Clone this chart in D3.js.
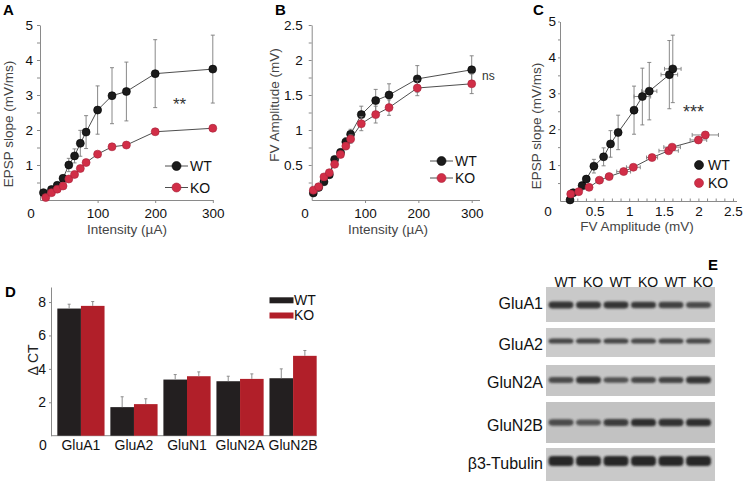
<!DOCTYPE html>
<html><head><meta charset="utf-8">
<script src="https://cdn.jsdelivr.net/npm/d3@7"></script>
<style>html,body{margin:0;padding:0;background:#fff}</style>
</head><body>
<script>
// ---------------- DATA ----------------
// Panel A: EPSP slope vs intensity
const aWtX = [6, 20, 30, 40, 50, 60, 70, 80, 100, 125, 150, 200, 300];
const aWtY = [0.21, 0.3, 0.42, 0.62, 1.0, 1.26, 1.62, 1.94, 2.57, 2.98, 3.1, 3.61, 3.74];
const aWtE = [0.03, 0.04, 0.05, 0.08, 0.19, 0.2, 0.37, 0.47, 0.69, 0.8, 0.84, 0.97, 0.97];
const aKoX = [10, 20, 30, 40, 50, 60, 70, 80, 100, 125, 150, 200, 300];
const aKoY = [0.07, 0.21, 0.31, 0.4, 0.6, 0.73, 0.9, 1.07, 1.31, 1.52, 1.57, 1.95, 2.05];
const aKoE = [0.02, 0.02, 0.03, 0.03, 0.04, 0.04, 0.05, 0.05, 0.05, 0.06, 0.07, 0.08, 0.09];
const aYTicks = [1, 2, 3, 4, 5];
const aXTicks = [100, 200, 300];

// Panel B: FV amplitude vs intensity
const bWtX = [3, 13, 23, 33, 43, 54, 64, 73, 93, 120, 145, 198, 300];
const bWtY = [0.1, 0.18, 0.26, 0.36, 0.58, 0.68, 0.83, 0.94, 1.22, 1.42, 1.5, 1.73, 1.86];
const bWtE = [0.02, 0.03, 0.03, 0.04, 0.04, 0.05, 0.06, 0.07, 0.12, 0.16, 0.16, 0.19, 0.2];
const bKoX = [3, 13, 23, 33, 43, 54, 64, 73, 93, 120, 145, 198, 300];
const bKoY = [0.14, 0.19, 0.33, 0.39, 0.51, 0.65, 0.77, 0.87, 1.09, 1.22, 1.32, 1.6, 1.66];
const bKoE = [0.02, 0.02, 0.03, 0.03, 0.04, 0.04, 0.05, 0.06, 0.1, 0.12, 0.11, 0.11, 0.14];
const bYTicks = [0.5, 1, 1.5, 2, 2.5];
const bXTicks = [100, 200, 300];

// Panel C: EPSP slope vs FV amplitude
const cWtX = [0.145, 0.19, 0.32, 0.38, 0.49, 0.63, 0.73, 0.84, 1.07, 1.19, 1.29, 1.58, 1.63];
const cWtY = [0.03, 0.23, 0.43, 0.61, 0.97, 1.23, 1.59, 1.91, 2.53, 2.91, 3.06, 3.52, 3.68];
const cWtXE = [0.01, 0.01, 0.02, 0.02, 0.05, 0.04, 0.04, 0.04, 0.05, 0.12, 0.11, 0.12, 0.12];
const cWtYE = [0.02, 0.03, 0.05, 0.08, 0.19, 0.25, 0.37, 0.48, 0.67, 0.79, 0.8, 0.95, 0.94];
const cKoX = [0.155, 0.27, 0.42, 0.57, 0.71, 0.92, 1.06, 1.33, 1.57, 1.62, 2.0, 2.1];
const cKoY = [0.195, 0.26, 0.38, 0.58, 0.68, 0.82, 0.94, 1.21, 1.4, 1.5, 1.7, 1.84];
const cKoXE = [0.01, 0.02, 0.02, 0.05, 0.05, 0.1, 0.1, 0.08, 0.14, 0.12, 0.12, 0.19];
const cKoYE = [0.02, 0.02, 0.03, 0.03, 0.04, 0.04, 0.05, 0.05, 0.06, 0.07, 0.08, 0.09];
const cYTicks = [1, 2, 3, 4, 5];
const cXTicks = [0.5, 1, 1.5, 2, 2.5];

// Panel D: qPCR delta CT
const dGenes = ["GluA1", "GluA2", "GluN1", "GluN2A", "GluN2B"];
const dWt = [7.61, 1.71, 3.36, 3.26, 3.44];
const dWtE = [0.26, 0.62, 0.3, 0.3, 0.56];
const dKo = [7.77, 1.89, 3.56, 3.4, 4.78];
const dKoE = [0.26, 0.32, 0.26, 0.3, 0.32];
const dYTicks = [2, 4, 6, 8];

// Panel E: western blot (relative band density per lane)
const eProteins = ["GluA1", "GluA2", "GluN2A", "GluN2B", "β3-Tubulin"];
const eLanes = ["WT", "KO", "WT", "KO", "WT", "KO"];
const eGluA1 = [1.0, 1.0, 1.0, 0.95, 0.85, 0.72];
const eGluA2 = [0.8, 0.8, 0.8, 0.78, 0.78, 0.78];
const eGluN2A = [0.7, 1.0, 0.62, 0.75, 0.8, 1.0];
const eGluN2B = [0.7, 0.55, 0.9, 1.1, 1.05, 1.1];
const eTub = [1.2, 1.2, 1.2, 1.2, 1.2, 1.2];

// ---------------- DRAWING ----------------
const FONT = "'Liberation Sans', Arial, Helvetica, sans-serif";
const BLACK = "#1b1b1b", RED = "#d12e47", REDSTROKE = "#a8233a";
const svg = d3.select("body").append("svg").attr("width", 743).attr("height", 484)
  .style("font-family", FONT);
svg.append("rect").attr("width", 743).attr("height", 484).attr("fill", "#fff");

function styleAxis(g, size) {
  g.select(".domain").attr("stroke", "#8a8a8a").attr("stroke-width", 1);
  g.selectAll(".tick line").attr("stroke", "#8a8a8a");
  g.selectAll(".tick text").attr("font-size", size || 13.5).attr("fill", "#111").attr("font-family", FONT);
}
function fmt(v) { return String(v); }

function drawSeries(g, x, y, xs, ys, ye, fill, stroke, xe) {
  const pts = xs.map((d, i) => ({x: d, y: ys[i], e: ye[i], xe: xe ? xe[i] : 0}));
  g.append("path").datum(pts).attr("fill", "none").attr("stroke", "#3a3a3a").attr("stroke-width", 0.9)
    .attr("d", d3.line().x(d => x(d.x)).y(d => y(d.y)));
  const eb = g.append("g").attr("stroke", "#7c7c7c").attr("stroke-width", 0.9);
  pts.forEach(d => {
    eb.append("line").attr("x1", x(d.x)).attr("x2", x(d.x)).attr("y1", y(d.y - d.e)).attr("y2", y(d.y + d.e));
    eb.append("line").attr("x1", x(d.x) - 2).attr("x2", x(d.x) + 2).attr("y1", y(d.y + d.e)).attr("y2", y(d.y + d.e));
    eb.append("line").attr("x1", x(d.x) - 2).attr("x2", x(d.x) + 2).attr("y1", y(d.y - d.e)).attr("y2", y(d.y - d.e));
    if (d.xe) {
      eb.append("line").attr("x1", x(d.x - d.xe)).attr("x2", x(d.x + d.xe)).attr("y1", y(d.y)).attr("y2", y(d.y));
      eb.append("line").attr("x1", x(d.x - d.xe)).attr("x2", x(d.x - d.xe)).attr("y1", y(d.y) - 2).attr("y2", y(d.y) + 2);
      eb.append("line").attr("x1", x(d.x + d.xe)).attr("x2", x(d.x + d.xe)).attr("y1", y(d.y) - 2).attr("y2", y(d.y) + 2);
    }
  });
  g.append("g").selectAll("circle").data(pts).join("circle")
    .attr("cx", d => x(d.x)).attr("cy", d => y(d.y)).attr("r", 4)
    .attr("fill", fill).attr("stroke", stroke).attr("stroke-width", 0.6);
}

function panelLabel(t, x, y) {
  svg.append("text").attr("x", x).attr("y", y).text(t).attr("font-size", 15).attr("font-weight", "bold").attr("fill", "#000");
}
function axisTitle(t, x, y, rot) {
  const el = svg.append("text").text(t).attr("font-size", 13.5).attr("fill", "#444").attr("text-anchor", "middle");
  if (rot) el.attr("transform", `translate(${x},${y}) rotate(-90)`);
  else el.attr("x", x).attr("y", y);
}
function legendLine(x0, x1, y, fill, stroke, label, withLine) {
  if (withLine) svg.append("line").attr("x1", x0).attr("x2", x1).attr("y1", y).attr("y2", y).attr("stroke", "#3a3a3a").attr("stroke-width", 0.9);
  svg.append("circle").attr("cx", (x0 + x1) / 2).attr("cy", y).attr("r", 4.5).attr("fill", fill).attr("stroke", stroke).attr("stroke-width", 0.6);
  svg.append("text").attr("x", x1 + 2).attr("y", y + 5).text(label).attr("font-size", 14).attr("fill", "#111");
}

// ---- Panel A ----
{
  const x = d3.scaleLinear().domain([0, 300]).range([40, 212.8]);
  const y = d3.scaleLinear().domain([0, 5]).range([200, 25]);
  const g = svg.append("g");
  const ya = g.append("g").attr("transform", "translate(40,0)")
    .call(d3.axisLeft(y).tickValues(d3.range(0.5, 5.01, 0.5)).tickSizeInner(3).tickSizeOuter(0).tickPadding(4)
      .tickFormat(d => aYTicks.includes(d) ? fmt(d) : ""));
  styleAxis(ya);
  const xa = g.append("g").attr("transform", "translate(0,200)")
    .call(d3.axisBottom(x).tickValues(aXTicks).tickSizeInner(3).tickSizeOuter(0).tickPadding(5).tickFormat(fmt));
  styleAxis(xa);
  g.append("text").attr("x", 31).attr("y", 218).attr("text-anchor", "middle").attr("font-size", 13.5).attr("fill", "#111").text("0");
  drawSeries(g, x, y, aWtX, aWtY, aWtE, BLACK, "#000");
  drawSeries(g, x, y, aKoX, aKoY, aKoE, RED, REDSTROKE);
  panelLabel("A", 3, 15);
  axisTitle("Intensity (µA)", 127, 234, false);
  axisTitle("EPSP slope (mV/ms)", 13, 124, true);
  legendLine(165, 188, 166, BLACK, "#000", "WT", true);
  legendLine(165, 188, 187.5, RED, REDSTROKE, "KO", true);
  svg.append("text").attr("x", 173).attr("y", 110).text("**").attr("font-size", 17).attr("fill", "#333");
}

// ---- Panel B ----
{
  const x = d3.scaleLinear().domain([0, 300]).range([311.7, 471.7]);
  const y = d3.scaleLinear().domain([0, 2.5]).range([200, 25]);
  const g = svg.append("g");
  const ya = g.append("g").attr("transform", "translate(311.7,0)")
    .call(d3.axisLeft(y).tickValues(d3.range(0.25, 2.51, 0.25)).tickSizeInner(3).tickSizeOuter(0).tickPadding(6)
      .tickFormat(d => bYTicks.includes(d) ? fmt(d) : ""));
  styleAxis(ya);
  const xa = g.append("g").attr("transform", "translate(0,200)")
    .call(d3.axisBottom(x).tickValues(bXTicks).tickSizeInner(3).tickSizeOuter(0).tickPadding(5).tickFormat(fmt));
  styleAxis(xa);
  g.append("line").attr("x1", x(300)).attr("x2", 480).attr("y1", 200.5).attr("y2", 200.5).attr("stroke", "#8a8a8a");
  g.append("text").attr("x", 305).attr("y", 218).attr("text-anchor", "middle").attr("font-size", 13.5).attr("fill", "#111").text("0");
  drawSeries(g, x, y, bWtX, bWtY, bWtE, BLACK, "#000");
  drawSeries(g, x, y, bKoX, bKoY, bKoE, RED, REDSTROKE);
  panelLabel("B", 275, 15);
  axisTitle("Intensity (µA)", 388, 234, false);
  axisTitle("FV Amplitude (mV)", 279, 105, true);
  legendLine(430, 453, 161, BLACK, "#000", "WT", true);
  legendLine(430, 453, 178, RED, REDSTROKE, "KO", true);
  svg.append("text").attr("x", 482).attr("y", 80).text("ns").attr("font-size", 12).attr("fill", "#333");
}

// ---- Panel C ----
{
  const x = d3.scaleLinear().domain([0, 2.5]).range([560, 733]);
  const y = d3.scaleLinear().domain([0, 5]).range([201, 21.5]);
  const g = svg.append("g");
  const ya = g.append("g").attr("transform", "translate(560,0)")
    .call(d3.axisLeft(y).tickValues(d3.range(0.5, 5.01, 0.5)).tickSizeInner(2).tickSizeOuter(0).tickPadding(2)
      .tickFormat(d => cYTicks.includes(d) ? fmt(d) : ""));
  styleAxis(ya);
  const xa = g.append("g").attr("transform", "translate(0,201)")
    .call(d3.axisBottom(x).tickValues(d3.range(0.125, 2.51, 0.125)).tickSizeInner(-2.5).tickSizeOuter(0).tickPadding(5)
      .tickFormat(d => cXTicks.includes(d) ? fmt(d) : ""));
  styleAxis(xa);
  g.append("line").attr("x1", x(2.5)).attr("x2", 737).attr("y1", 201.5).attr("y2", 201.5).attr("stroke", "#8a8a8a");
  g.append("text").attr("x", 548).attr("y", 216).attr("text-anchor", "middle").attr("font-size", 13.5).attr("fill", "#111").text("0");
  drawSeries(g, x, y, cWtX, cWtY, cWtYE, BLACK, "#000", cWtXE);
  drawSeries(g, x, y, cKoX, cKoY, cKoYE, RED, REDSTROKE, cKoXE);
  panelLabel("C", 533, 15);
  axisTitle("FV Amplitude (mV)", 637, 231, false);
  axisTitle("EPSP slope (mV/ms)", 541, 126, true);
  legendLine(692, 706, 165, BLACK, "#000", "WT", false);
  legendLine(692, 706, 183, RED, REDSTROKE, "KO", false);
  svg.append("text").attr("x", 683).attr("y", 118).text("***").attr("font-size", 18).attr("fill", "#333");
}

// ---- Panel D ----
{
  const x = d3.scaleBand().domain(dGenes).range([51.5, 322.5]).paddingInner(0.11).paddingOuter(0.11);
  const sub = d3.scaleBand().domain(["WT", "KO"]).range([0, x.bandwidth()]).padding(0);
  const y = d3.scaleLinear().domain([0, 8.9]).range([435.7, 287]);
  const g = svg.append("g");
  const ya = g.append("g").attr("transform", "translate(51,0)")
    .call(d3.axisLeft(y).tickValues(dYTicks).tickSizeInner(2).tickSizeOuter(0).tickPadding(3).tickFormat(fmt));
  styleAxis(ya, 14);
  g.append("line").attr("x1", 51).attr("x2", 316.7).attr("y1", 435.7).attr("y2", 435.7).attr("stroke", "#8a8a8a");
  const groups = [["WT", dWt, dWtE, "#231f20"], ["KO", dKo, dKoE, "#b11f29"]];
  groups.forEach(([key, vals, errs, col]) => {
    dGenes.forEach((gene, i) => {
      const bx = x(gene) + sub(key), bw = sub.bandwidth();
      g.append("rect").attr("x", bx).attr("y", y(vals[i])).attr("width", bw).attr("height", y(0) - y(vals[i])).attr("fill", col);
      const cx = bx + bw / 2;
      g.append("line").attr("x1", cx).attr("x2", cx).attr("y1", y(vals[i])).attr("y2", y(vals[i] + errs[i])).attr("stroke", "#8d8d8d").attr("stroke-width", 1);
      g.append("line").attr("x1", cx - 1.5).attr("x2", cx + 1.5).attr("y1", y(vals[i] + errs[i])).attr("y2", y(vals[i] + errs[i])).attr("stroke", "#8d8d8d").attr("stroke-width", 1);
    });
  });
  dGenes.forEach(gene => {
    g.append("text").attr("x", x(gene) + x.bandwidth() / 2).attr("y", 450).attr("text-anchor", "middle")
      .attr("font-size", 14).attr("fill", "#111").text(gene);
  });
  g.append("text").attr("x", 43).attr("y", 450).attr("text-anchor", "middle").attr("font-size", 14).attr("fill", "#111").text("0");
  g.append("text").attr("transform", "translate(38,360) rotate(-90)").attr("text-anchor", "middle").attr("font-size", 14).attr("fill", "#222").text("Δ CT");
  g.append("rect").attr("x", 269.5).attr("y", 297.3).attr("width", 24).attr("height", 6).attr("fill", "#231f20");
  g.append("rect").attr("x", 269.5).attr("y", 312.5).attr("width", 24).attr("height", 6).attr("fill", "#b11f29");
  g.append("text").attr("x", 294).attr("y", 305).attr("font-size", 14).attr("fill", "#111").text("WT");
  g.append("text").attr("x", 294).attr("y", 320).attr("font-size", 14).attr("fill", "#111").text("KO");
  panelLabel("D", 5, 297);
}

// ---- Panel E ----
{
  const defs = svg.append("defs");
  defs.append("filter").attr("id", "blur").attr("x", "-30%").attr("y", "-100%").attr("width", "160%").attr("height", "300%")
    .append("feGaussianBlur").attr("stdDeviation", 1.3);
  const rowLayout = [
    {top: 287, bot: 322, band: 305, lab: 303, th: 6.5, bg: "#c9c9c9"},
    {top: 328, bot: 357, band: 341, lab: 344, th: 5.5, bg: "#cbcbcb"},
    {top: 365, bot: 396, band: 380, lab: 382, th: 6.5, bg: "#c6c6c6"},
    {top: 402, bot: 443, band: 422.5, lab: 425, th: 7, bg: "#c2c2c2"},
    {top: 448, bot: 481, band: 461, lab: 463, th: 8.5, bg: "#c9c9c9"}
  ];
  const dens = [eGluA1, eGluA2, eGluN2A, eGluN2B, eTub];
  const lane = d3.scalePoint().domain(d3.range(eLanes.length)).range([561, 698.5]);
  const g = svg.append("g");
  eLanes.forEach((l, i) => {
    g.append("text").attr("x", lane(i) + 4.5).attr("y", 287).attr("text-anchor", "middle").attr("font-size", 14).attr("fill", "#111").text(l);
  });
  eProteins.forEach((p, r) => {
    const L = rowLayout[r];
    g.append("rect").attr("x", 546).attr("y", L.top).attr("width", 169).attr("height", L.bot - L.top).attr("fill", L.bg);
    dens[r].forEach((v, i) => {
      const h = L.th * (0.55 + 0.5 * v);
      g.append("rect").attr("x", lane(i) - 12.5).attr("y", L.band - h / 2).attr("width", 25).attr("height", h)
        .attr("rx", 4).attr("fill", "#262626").attr("opacity", Math.min(1, 0.45 + 0.45 * v)).attr("filter", "url(#blur)");
    });
    g.append("text").attr("x", 543).attr("y", L.lab + 6).attr("text-anchor", "end").attr("font-size", 16).attr("fill", "#111").text(p);
  });
  panelLabel("E", 708, 270);
}
</script>
</body></html>
